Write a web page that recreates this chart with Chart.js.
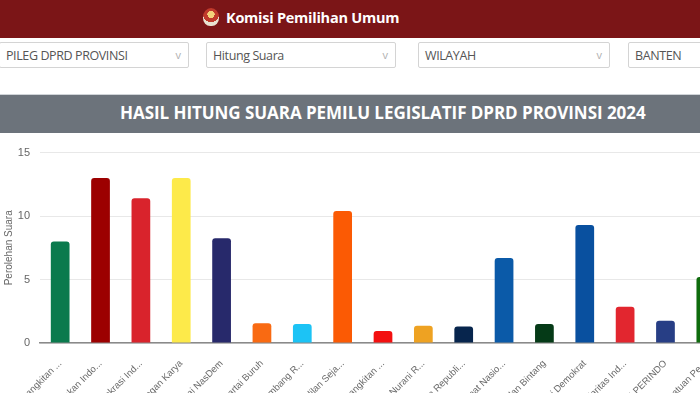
<!DOCTYPE html>
<html>
<head>
<meta charset="utf-8">
<script src="https://cdn.jsdelivr.net/npm/chart.js@4"></script>
<style>
  html, body { margin: 0; padding: 0; width: 700px; height: 393px; overflow: hidden; background: #fff; font-family: "Open Sans", sans-serif; }
  .topbar { position: absolute; left: 0; top: 0; width: 700px; height: 38px; background: #7b1517; }
  .topbar .brand { position: absolute; left: 203px; top: 8px; color: #fff; font-weight: 700; font-size: 14.5px; letter-spacing: -0.25px; line-height: 20px; white-space: nowrap; }
  .logo { display: inline-block; width: 16px; height: 18px; vertical-align: -3px; margin-right: 7px; border-radius: 50% 50% 45% 45%;
          background: radial-gradient(circle at 50% 35%, #f3d27a 0 25%, #c0392b 26% 55%, #e8e1d0 56%); }
  .sel { position: absolute; top: 42px; height: 26px; border: 1px solid #d4d4d4; border-radius: 2px; background: #fff;
         font-size: 12.5px; letter-spacing: -0.4px; color: #555; line-height: 25px; padding-left: 6px; box-sizing: border-box; white-space: nowrap; }
  .sel .chev { position: absolute; right: 7px; top: -1px; color: #b0b0b0; font-size: 11px; letter-spacing: 0; }
  .titlebar { position: absolute; left: 0; top: 94px; width: 700px; height: 38px; background: #6c737b; border-top: 1px solid #d0d4d8; }
  .titlebar span { position: absolute; left: 120px; top: 6px; color: #fff; font-weight: 700; font-size: 17px; letter-spacing: -0.05px; white-space: nowrap; }
  #wrap { position: absolute; left: 0; top: 136px; width: 726px; height: 307px; }
</style>
</head>
<body>
<div class="topbar"><div class="brand"><span class="logo"></span>Komisi Pemilihan Umum</div></div>
<div class="sel" style="left:-1px;width:190px;">PILEG DPRD PROVINSI<span class="chev">v</span></div>
<div class="sel" style="left:206px;width:190px;">Hitung Suara<span class="chev">v</span></div>
<div class="sel" style="left:418px;width:192px;">WILAYAH<span class="chev">v</span></div>
<div class="sel" style="left:628px;width:100px;">BANTEN</div>
<div class="titlebar"><span>HASIL HITUNG SUARA PEMILU LEGISLATIF DPRD PROVINSI 2024</span></div>
<div id="wrap"><canvas id="chart" width="726" height="307"></canvas></div>
<script>
const parties = [
  'Partai Kebangkitan ...', 'Partai Gerakan Indo...', 'Partai Demokrasi Ind...', 'Partai Golongan Karya',
  'Partai NasDem', 'Partai Buruh', 'Partai Gelombang R...', 'Partai Keadilan Seja...',
  'Partai Kebangkitan ...', 'Partai Hati Nurani R...', 'Partai Garda Republi...', 'Partai Amanat Nasio...',
  'Partai Bulan Bintang', 'Partai Demokrat', 'Partai Solidaritas Ind...', 'PARTAI PERINDO', 'Partai Persatuan Pe...'
];
const suara = [8.0, 13.0, 11.4, 13.0, 8.25, 1.55, 1.5, 10.4, 0.95, 1.35, 1.3, 6.7, 1.5, 9.3, 2.85, 1.75, 5.2];
const warna = [
  '#0a7a4d', '#9c0000', '#d9232c', '#fdea4a', '#27296b', '#f96a12', '#1cc3f5', '#fb5a04',
  '#f31010', '#eea222', '#07254d', '#0b5aa8', '#053a17', '#09509f', '#e2262f', '#273e85', '#0f6c0d'
];
const yTicks = [0, 5, 10, 15];

const ctx = document.getElementById('chart').getContext('2d');
const chart = new Chart(ctx, {
    type: 'bar',
    data: {
        labels: parties,
        datasets: [{
            label: 'Perolehan Suara',
            data: suara,
            backgroundColor: warna,
            borderRadius: 3,
            categoryPercentage: 0.8,
            barPercentage: 0.58
        }]
    },
    options: {
        responsive: false,
        animation: false,
        layout: { padding: { top: 6, left: 0, right: 0, bottom: 0 } },
        plugins: { legend: { display: false }, tooltip: { enabled: false } },
        scales: {
            x: {
                grid: { display: false },
                border: { color: '#8a8a8a', width: 1.5 },
                ticks: { autoSkip: false, minRotation: 45, maxRotation: 45, padding: 7, color: '#6a6a6a', font: { size: 9.5 } },
                afterFit: s => { s.height = 100; s.paddingLeft = 0; s.paddingRight = 0; }
            },
            y: {
                min: 0,
                max: 15,
                afterBuildTicks: s => { s.ticks = yTicks.map(v => ({ value: v })); },
                grid: { color: '#e8e8e8', drawTicks: false },
                border: { display: false },
                ticks: { padding: 10, color: '#666', font: { size: 11 } },
                title: { display: true, text: 'Perolehan Suara', color: '#666', font: { size: 10 }, padding: { top: 3, bottom: 2 } },
                afterFit: s => { s.width = 40; }
            }
        }
    }
});
</script>
</body>
</html>
